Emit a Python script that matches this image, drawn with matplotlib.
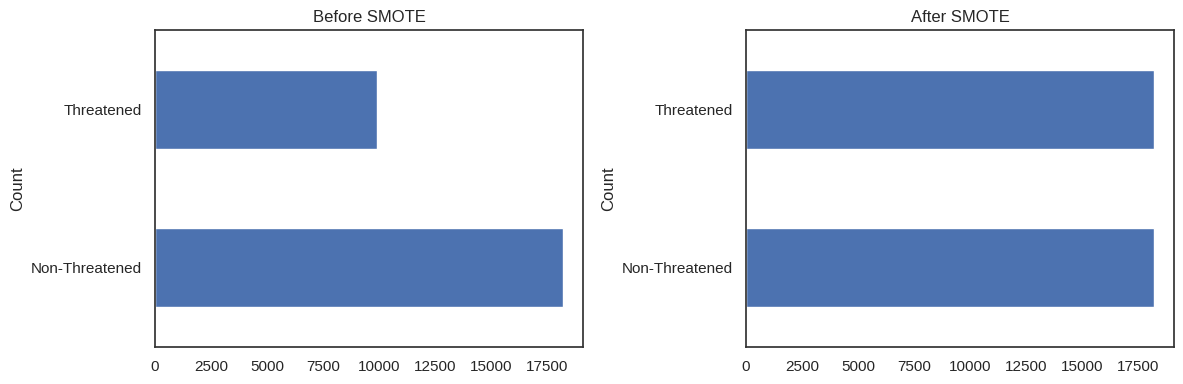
import matplotlib
matplotlib.use("Agg")
import matplotlib.pyplot as plt
import seaborn as sns

sns.set_theme(style="white")
plt.rcParams["font.family"] = ["Liberation Sans", "DejaVu Sans"]

classes = ["Non-Threatened", "Threatened"]
before_counts = [18215, 9905]
after_counts = [18215, 18215]

fig, axes = plt.subplots(1, 2, figsize=(11.83, 3.84), dpi=100)
fig.subplots_adjust(left=0.131, right=0.9925, bottom=0.097, top=0.922, wspace=0.381)

for ax, counts, title in zip(axes, [before_counts, after_counts], ["Before SMOTE", "After SMOTE"]):
    ax.barh(range(len(classes)), counts, height=0.5, color="#4c72b0")
    ax.set_yticks(range(len(classes)))
    ax.set_yticklabels(classes)
    ax.set_ylim(-0.5, 1.5)
    ax.set_ylabel("Count")
    ax.set_title(title)
    ax.set_xticks(range(0, 17501, 2500))
    for s in ax.spines.values():
        s.set_color("#333333")
        s.set_linewidth(1.25)

plt.savefig("out.png")
